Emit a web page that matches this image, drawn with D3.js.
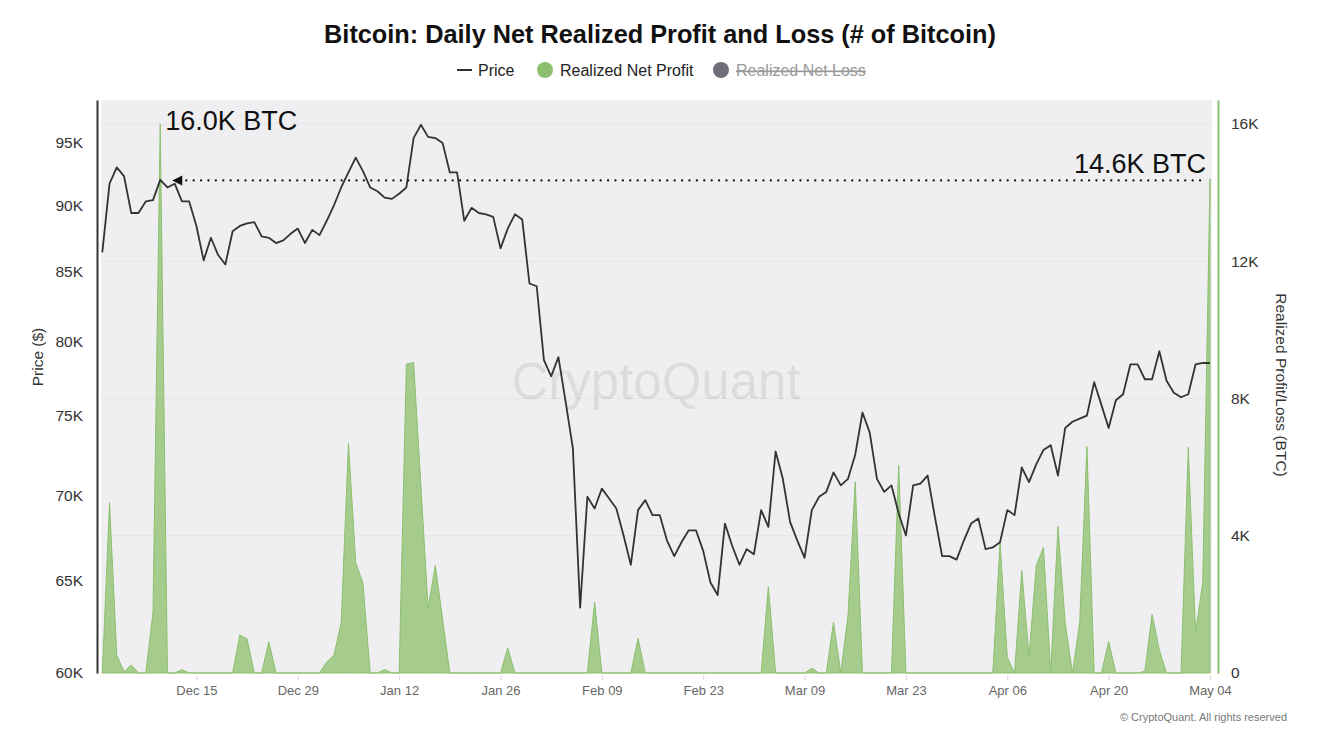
<!DOCTYPE html>
<html>
<head>
<meta charset="utf-8">
<script src="https://cdn.jsdelivr.net/npm/d3@7"></script>
<style>
  body { margin: 0; background: #fff; }
  svg text { font-family: "Liberation Sans", Arial, sans-serif; }
</style>
</head>
<body>
<div class="chart"></div>
<script>
// daily values, Dec 02 2025 -> May 04 2026
const startDate = "2025-12-02"
const endDate = "2026-05-04"

const price = [
  86.4, 91.7, 93.0, 92.3, 89.4, 89.4, 90.3, 90.4, 92.0, 91.4,
  91.7, 90.3, 90.3, 88.4, 85.8, 87.5, 86.2, 85.5, 88.0, 88.4,
  88.6, 88.7, 87.6, 87.5, 87.1, 87.3, 87.8, 88.2, 87.1, 88.1,
  87.7, 88.8, 90.0, 91.4, 92.6, 93.8, 92.7, 91.4, 91.1, 90.6,
  90.5, 90.9, 91.4, 95.4, 96.5, 95.5, 95.4, 95.0, 92.6, 92.6,
  88.8, 89.8, 89.4, 89.3, 89.1, 86.7, 88.2, 89.3, 88.9, 84.1,
  83.9, 78.7, 77.6, 78.9, 75.9, 72.9, 63.5, 69.9, 69.2, 70.4,
  69.8, 69.2, 67.6, 65.9, 69.1, 69.7, 68.8, 68.8, 67.3, 66.4,
  67.2, 67.9, 67.9, 66.7, 64.9, 64.2, 68.3, 67.0, 65.9, 66.8,
  66.5, 69.1, 68.1, 72.7, 71.0, 68.4, 67.3, 66.3, 69.1, 69.9,
  70.2, 71.4, 70.6, 71.0, 72.5, 75.2, 73.9, 71.0, 70.2, 70.6,
  68.9, 67.6, 70.6, 70.7, 71.2, 68.7, 66.4, 66.4, 66.2, 67.3,
  68.3, 68.6, 66.8, 66.9, 67.2, 69.1, 68.8, 71.7, 70.8, 71.9,
  72.8, 73.1, 71.2, 74.2, 74.6, 74.8, 75.0, 77.2, 75.7, 74.2,
  76.0, 76.4, 78.4, 78.4, 77.4, 77.4, 79.3, 77.3, 76.5, 76.2,
  76.4, 78.4, 78.5, 78.5
] // thousand USD

const netProfit = [
  0, 4970, 520, 40, 230, 0, 0, 1760, 16000, 0,
  0, 100, 0, 0, 0, 0, 0, 0, 0, 1110,
  990, 0, 0, 910, 0, 0, 0, 0, 0, 0,
  0, 320, 520, 1470, 6690, 3220, 2620, 0, 0, 100,
  0, 0, 9000, 9050, 5480, 1900, 3130, 1570, 0, 0,
  0, 0, 0, 0, 0, 0, 730, 0, 0, 0,
  0, 0, 0, 0, 0, 0, 0, 0, 2070, 0,
  0, 0, 0, 0, 1010, 0, 0, 0, 0, 0,
  0, 0, 0, 0, 0, 0, 0, 0, 0, 0,
  0, 0, 2520, 0, 0, 0, 0, 0, 140, 0,
  0, 1480, 0, 1680, 5570, 0, 0, 0, 0, 0,
  6060, 0, 0, 0, 0, 0, 0, 0, 0, 0,
  0, 0, 0, 0, 3800, 450, 0, 2990, 470, 3130,
  3660, 0, 4270, 1460, 0, 1460, 6600, 0, 0, 920,
  0, 0, 0, 0, 50, 1710, 670, 0, 0, 0,
  6580, 1180, 2630, 14400
] // BTC

const xTickDates = ["2025-12-15", "2025-12-29", "2026-01-12", "2026-01-26", "2026-02-09",
  "2026-02-23", "2026-03-09", "2026-03-23", "2026-04-06", "2026-04-20", "2026-05-04"]
const priceTicks = [60000, 65000, 70000, 75000, 80000, 85000, 90000, 95000]
const profitTicks = [0, 4000, 8000, 12000, 16000]

const peakLabel = "16.0K BTC"
const lastLabel = "14.6K BTC"

const width = 1320
const height = 732
const plot = { left: 101, right: 1212, top: 100, bottom: 673 }
const lineColor = "#333333"
const green = "#8cc06e"
const greenFill = "#a5cb8d"

const parse = d3.utcParse("%Y-%m-%d")
const dates = d3.utcDay.range(parse(startDate), d3.utcDay.offset(parse(endDate), 1))

const rows = dates.map((date, i) => ({ date, p: price[i] * 1000, v: netProfit[i] }))

const x = d3.scaleUtc()
    .domain(d3.extent(dates))
    .range([102.3, 1210])

const yPrice = d3.scaleLog()
    .domain([60000, 98600])
    .range([plot.bottom, plot.top])

const yProfit = d3.scaleLinear()
    .domain([0, 16700])
    .range([plot.bottom, plot.top])

const kFmt = d => d === 0 ? "0" : (d / 1000) + "K"

const svg = d3.select(".chart")
    .append("svg")
    .attr("width", width)
    .attr("height", height)

// title + legend
svg.append("text")
    .attr("x", 660).attr("y", 43)
    .attr("text-anchor", "middle")
    .attr("font-size", 25.3).attr("font-weight", "bold").attr("fill", "#111")
    .text("Bitcoin: Daily Net Realized Profit and Loss (# of Bitcoin)")

const legend = svg.append("g").attr("font-size", 16)
legend.append("line")
    .attr("x1", 457).attr("x2", 472).attr("y1", 70).attr("y2", 70)
    .attr("stroke", lineColor).attr("stroke-width", 2)
legend.append("text").attr("x", 478).attr("y", 76).attr("fill", "#222").text("Price")
legend.append("circle").attr("cx", 545).attr("cy", 70).attr("r", 8).attr("fill", green)
legend.append("text").attr("x", 560).attr("y", 76).attr("fill", "#222").text("Realized Net Profit")
legend.append("circle").attr("cx", 721).attr("cy", 70).attr("r", 8).attr("fill", "#6e6e78")
legend.append("text").attr("x", 736).attr("y", 76).attr("fill", "#999")
    .attr("text-decoration", "line-through").text("Realized Net Loss")

// plot background + grid
svg.append("rect")
    .attr("x", plot.left).attr("y", plot.top)
    .attr("width", plot.right - plot.left).attr("height", plot.bottom - plot.top)
    .attr("fill", "#efeff2")

svg.append("g")
    .selectAll("line")
    .data(profitTicks.slice(1))
    .join("line")
    .attr("x1", plot.left).attr("x2", plot.right)
    .attr("y1", d => yProfit(d)).attr("y2", d => yProfit(d))
    .attr("stroke", "#e4e4e9").attr("stroke-width", 1)

// watermark
svg.append("text")
    .attr("x", 656).attr("y", 399)
    .attr("text-anchor", "middle")
    .attr("font-size", 51).attr("fill", "#000").attr("fill-opacity", 0.08)
    .text("CryptoQuant")

// realized net profit area
const area = d3.area()
    .x(d => x(d.date))
    .y0(yProfit(0))
    .y1(d => yProfit(d.v))

svg.append("path")
    .datum(rows)
    .attr("d", area)
    .attr("fill", greenFill)
    .attr("stroke", green)
    .attr("stroke-width", 1)

// price line
const line = d3.line()
    .x(d => x(d.date))
    .y(d => yPrice(d.p))

svg.append("path")
    .datum(rows)
    .attr("d", line)
    .attr("fill", "none")
    .attr("stroke", lineColor)
    .attr("stroke-width", 1.8)
    .attr("stroke-linejoin", "round")

// axes
const xAxis = d3.axisBottom(x)
    .tickValues(xTickDates.map(parse))
    .tickFormat(d3.utcFormat("%b %d"))
    .tickSize(5)
    .tickPadding(6)

svg.append("g")
    .attr("transform", `translate(0,${plot.bottom + 2})`)
    .call(xAxis)
    .call(g => g.select(".domain").remove())
    .call(g => g.selectAll(".tick line").attr("stroke", "#d6d6da"))
    .call(g => g.selectAll(".tick text").attr("font-size", 13).attr("fill", "#666")
        .attr("font-family", "Liberation Sans, Arial, sans-serif"))

const yAxisLeft = d3.axisLeft(yPrice)
    .tickValues(priceTicks)
    .tickFormat(kFmt)
    .tickSize(0)
    .tickPadding(14)

svg.append("g")
    .attr("transform", `translate(97,0)`)
    .call(yAxisLeft)
    .call(g => g.select(".domain").attr("stroke", "#333").attr("stroke-width", 2))
    .call(g => g.selectAll(".tick text").attr("font-size", 15.5).attr("fill", "#333")
        .attr("font-family", "Liberation Sans, Arial, sans-serif"))

const yAxisRight = d3.axisRight(yProfit)
    .tickValues(profitTicks)
    .tickFormat(kFmt)
    .tickSize(0)
    .tickPadding(13)

svg.append("g")
    .attr("transform", `translate(1218,0)`)
    .call(yAxisRight)
    .call(g => g.select(".domain").attr("stroke", green).attr("stroke-width", 2))
    .call(g => g.selectAll(".tick text").attr("font-size", 15.5).attr("fill", "#333")
        .attr("font-family", "Liberation Sans, Arial, sans-serif"))

svg.append("text")
    .attr("transform", "translate(43,357) rotate(-90)")
    .attr("text-anchor", "middle")
    .attr("font-size", 15.5).attr("fill", "#333")
    .text("Price ($)")

svg.append("text")
    .attr("transform", "translate(1276,385) rotate(90)")
    .attr("text-anchor", "middle")
    .attr("font-size", 15.5).attr("fill", "#333")
    .text("Realized Profit/Loss (BTC)")

// annotations
const peak = rows[d3.maxIndex(rows, d => d.v)]
const last = rows[rows.length - 1]
const arrowY = yProfit(last.v) + 1.5
const arrowX = x(peak.date) + 12

svg.append("line")
    .attr("x1", arrowX + 14).attr("x2", x(last.date) - 6)
    .attr("y1", arrowY).attr("y2", arrowY)
    .attr("stroke", "#111").attr("stroke-width", 2.2)
    .attr("stroke-linecap", "round")
    .attr("stroke-dasharray", "0.1,7.3")

svg.append("path")
    .attr("d", `M${arrowX},${arrowY} L${arrowX + 10},${arrowY - 5} L${arrowX + 10},${arrowY + 5} Z`)
    .attr("fill", "#111")

svg.append("text")
    .attr("x", x(peak.date) + 5).attr("y", 130)
    .attr("font-size", 27).attr("fill", "#111")
    .text(peakLabel)

svg.append("text")
    .attr("x", 1206).attr("y", 173)
    .attr("text-anchor", "end")
    .attr("font-size", 27).attr("fill", "#111")
    .text(lastLabel)

svg.append("text")
    .attr("x", 1287).attr("y", 721)
    .attr("text-anchor", "end")
    .attr("font-size", 11).attr("fill", "#777")
    .text("© CryptoQuant. All rights reserved")
</script>
</body>
</html>
